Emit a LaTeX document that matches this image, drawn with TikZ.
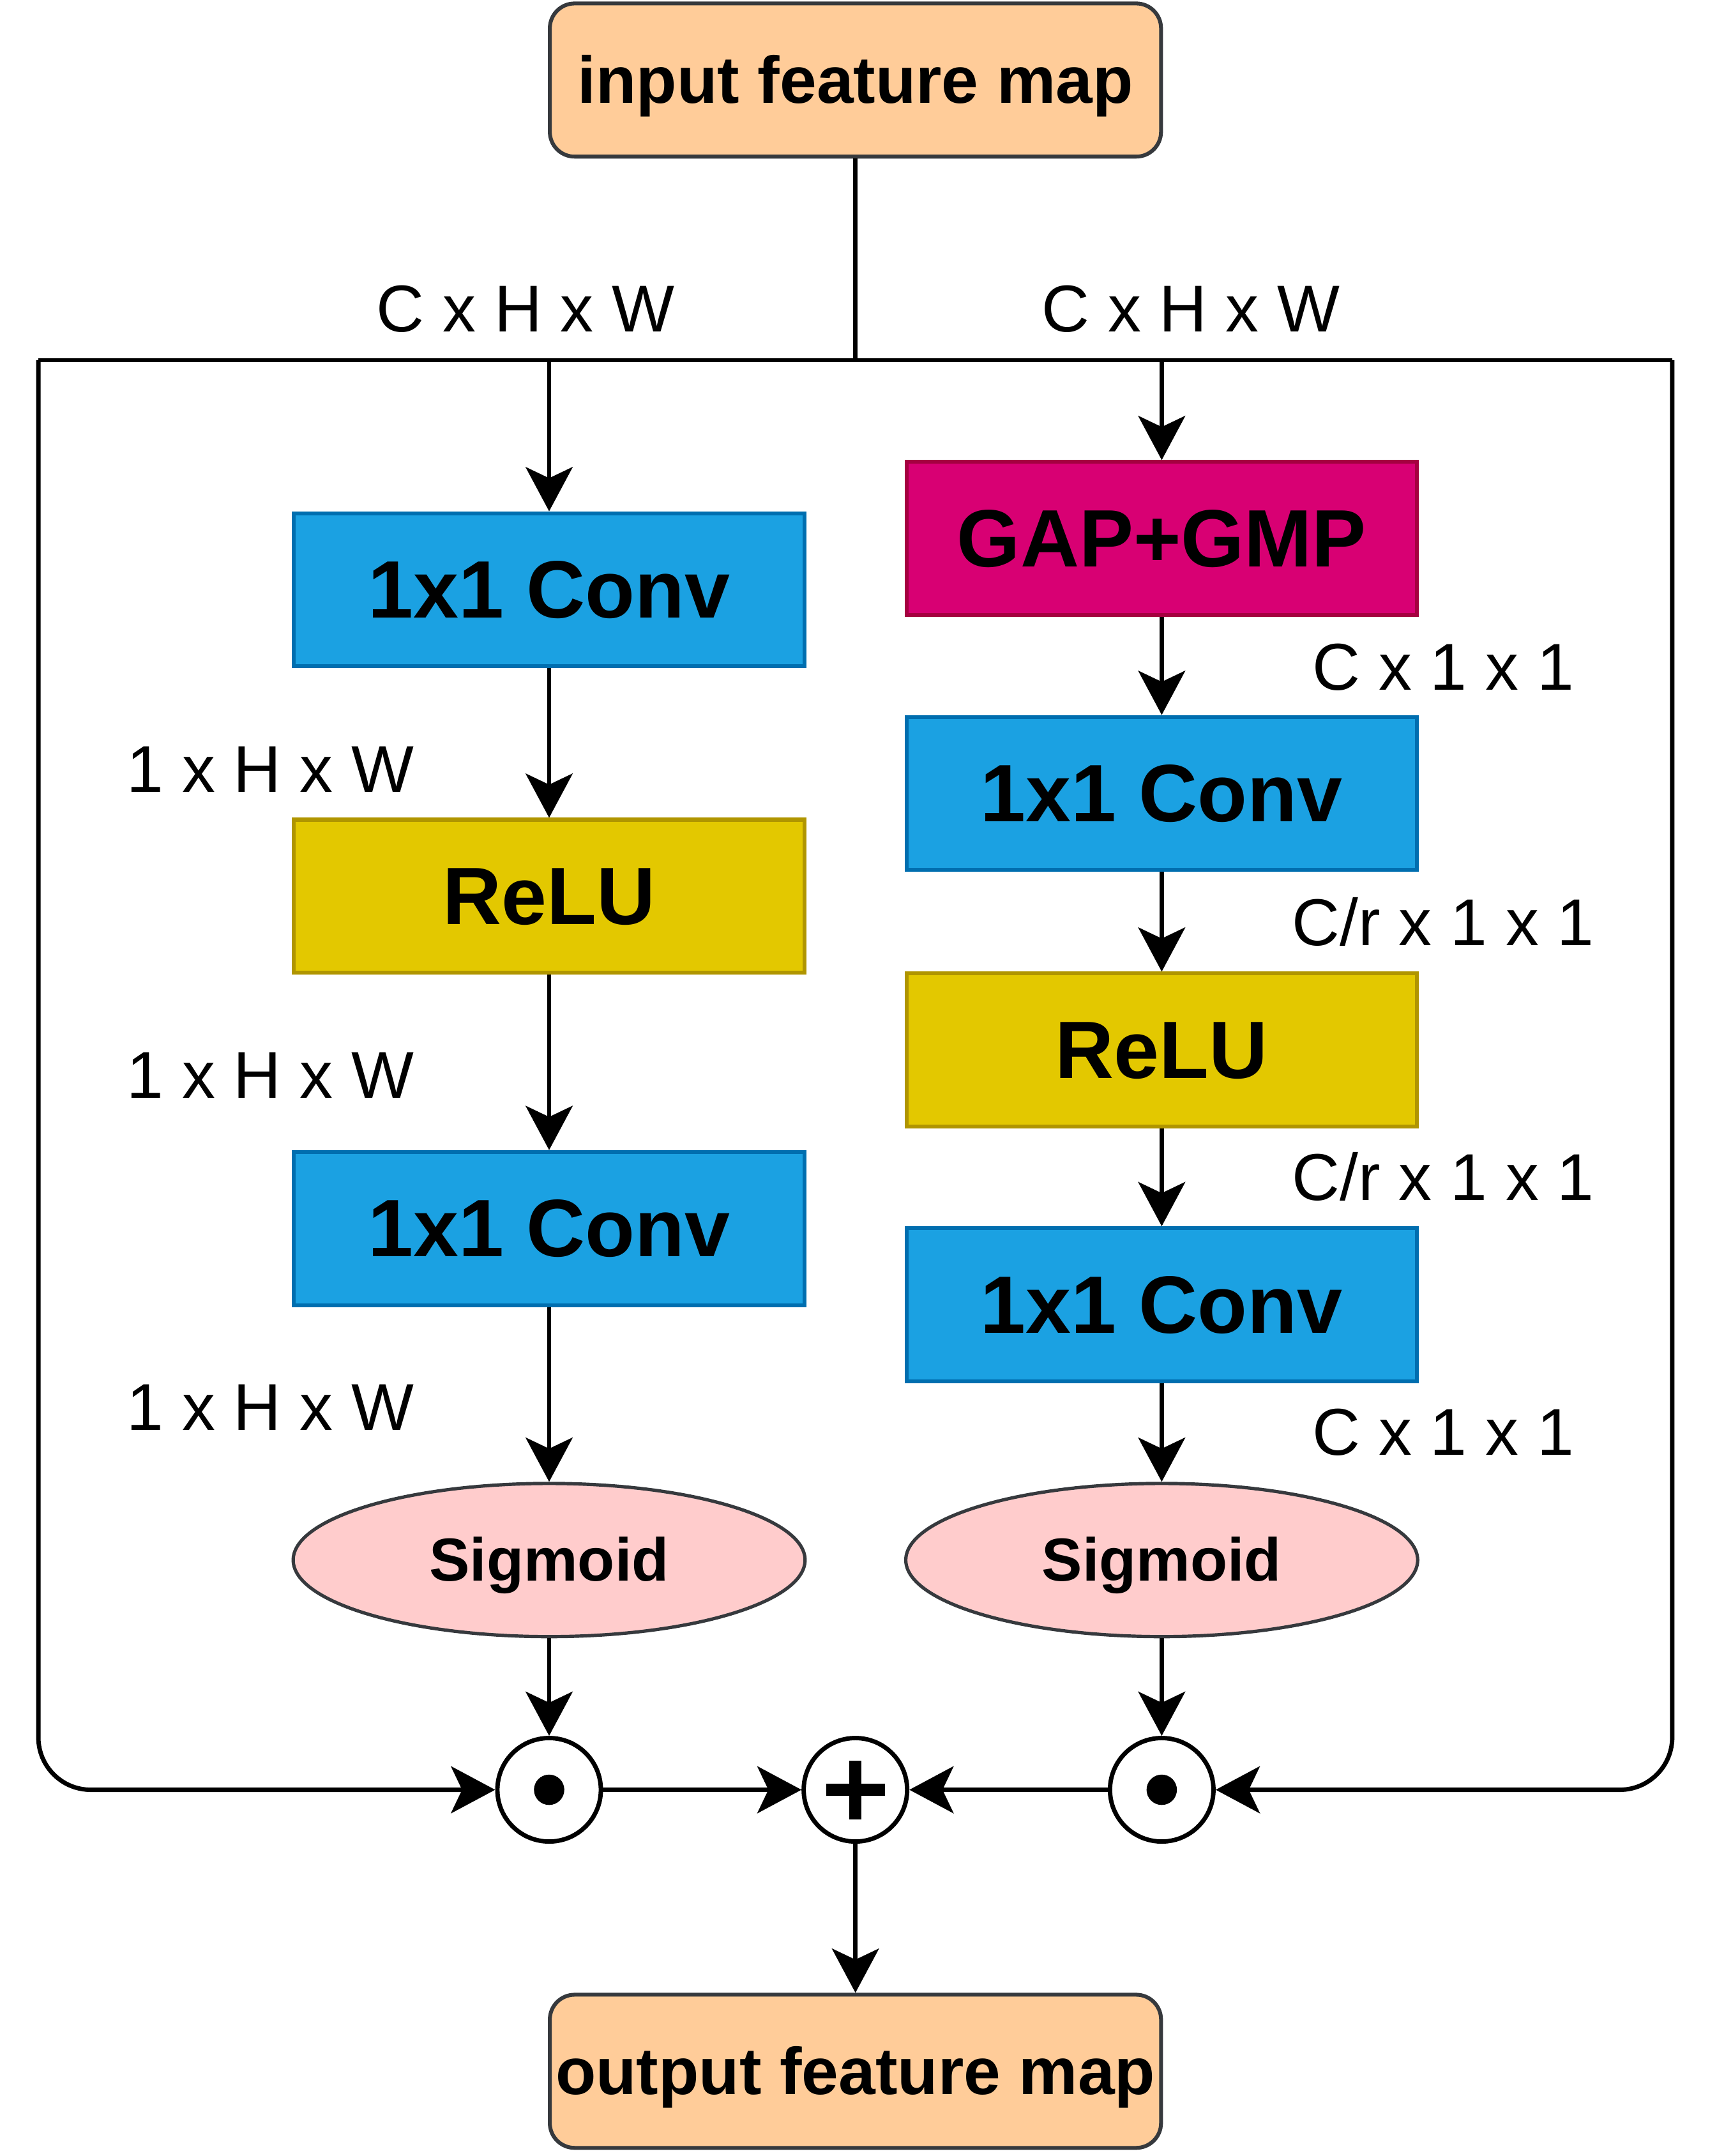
\documentclass[tikz,border=0pt]{standalone}
\usepackage{fontspec}
\setmainfont{Liberation Sans}
\usetikzlibrary{arrows.meta,shapes.geometric}
\definecolor{peachfill}{HTML}{FFCC99}
\definecolor{edgegray}{HTML}{36393D}
\definecolor{convfill}{HTML}{1BA1E2}
\definecolor{convedge}{HTML}{006EAF}
\definecolor{relufill}{HTML}{E3C800}
\definecolor{reluedge}{HTML}{B09500}
\definecolor{gapfill}{HTML}{D80073}
\definecolor{gapedge}{HTML}{A50040}
\definecolor{sigfill}{HTML}{FFCCCC}
\begin{document}
\begin{tikzpicture}[x=0.5pt,y=-0.5pt,
  conn/.style={line width=1.6pt},
  arr/.style={conn,-{Stealth[length=16pt,width=17pt,inset=4pt]}},
  blk/.style={rectangle,draw,line width=1.4pt,minimum width=185pt,minimum height=55.5pt,inner sep=0pt,
    font=\fontsize{29.5pt}{35pt}\selectfont\bfseries,text height=26.7pt,text depth=6.25pt},
  convbox/.style={blk,fill=convfill,draw=convedge},
  relubox/.style={blk,fill=relufill,draw=reluedge},
  gapbox/.style={blk,fill=gapfill,draw=gapedge},
  sigbox/.style={ellipse,draw=edgegray,fill=sigfill,line width=1.2pt,minimum width=185.5pt,minimum height=55.5pt,inner sep=0pt,
    font=\fontsize{22pt}{26pt}\selectfont\bfseries,text height=19.9pt,text depth=4.66pt},
  iobox/.style={rectangle,rounded corners=9pt,draw=edgegray,fill=peachfill,line width=1.4pt,minimum width=221.5pt,minimum height=55.5pt,inner sep=0pt,
    font=\fontsize{24pt}{28pt}\selectfont\bfseries,text height=21.7pt,text depth=5.1pt},
  opcirc/.style={circle,draw=black,fill=white,line width=1.6pt,minimum size=37.5pt,inner sep=0pt},
  dimlabel/.style={anchor=base,inner sep=0pt,font=\fontsize{24pt}{28pt}\selectfont}
]
\useasboundingbox (0,0) rectangle (1244,1562.4);

% nodes
\node[iobox] (in) at (620,58) {input feature map};
\node[iobox] (out) at (620,1501) {output feature map};

\node[convbox] (conv1L) at (398,427.4) {1x1 Conv};
\node[relubox] (reluL) at (398,649.5) {ReLU};
\node[convbox] (conv2L) at (398,890.3) {1x1 Conv};
\node[sigbox] (sigL) at (398,1130.5) {Sigmoid};

\node[gapbox] (gap) at (842,390.3) {GAP+GMP};
\node[convbox] (conv1R) at (842,575) {1x1 Conv};
\node[relubox] (reluR) at (842,761) {ReLU};
\node[convbox] (conv2R) at (842,945.5) {1x1 Conv};
\node[sigbox] (sigR) at (842,1130.5) {Sigmoid};

\node[opcirc] (odotL) at (398,1297) {};
\node[opcirc] (plus) at (620,1297) {};
\node[opcirc] (odotR) at (842,1297) {};

% labels
\node[dimlabel] (lblA) at (381,240.4) {C x H x W};
\node[dimlabel] (lblB) at (863,240.4) {C x H x W};
\node[dimlabel] (lblL1) at (196,574) {1 x H x W};
\node[dimlabel] (lblL2) at (196,796) {1 x H x W};
\node[dimlabel] (lblL3) at (196,1036.6) {1 x H x W};
\node[dimlabel] (lblR1) at (1046,500) {C x 1 x 1};
\node[dimlabel] (lblR2) at (1046,685) {C/r x 1 x 1};
\node[dimlabel] (lblR3) at (1046,870) {C/r x 1 x 1};
\node[dimlabel] (lblR4) at (1046,1054.5) {C x 1 x 1};

% coordinates
\coordinate (split) at (620,261);
\coordinate (bl) at (27.8,261);
\coordinate (br) at (1212,261);
\coordinate (tL) at (398,261);
\coordinate (tR) at (842,261);

% connectors
\draw[conn] (in) -- (split);
\draw[conn] (bl) -- (br);
\draw[arr] (tL) -- (conv1L);
\draw[arr] (conv1L) -- (reluL);
\draw[arr] (reluL) -- (conv2L);
\draw[arr] (conv2L) -- (sigL);
\draw[arr] (sigL) -- (odotL);
\draw[arr] (tR) -- (gap);
\draw[arr] (gap) -- (conv1R);
\draw[arr] (conv1R) -- (reluR);
\draw[arr] (reluR) -- (conv2R);
\draw[arr] (conv2R) -- (sigR);
\draw[arr] (sigR) -- (odotR);
\draw[arr,rounded corners=19pt] (bl) |- (odotL);
\draw[arr,rounded corners=19pt] (br) |- (odotR);
\draw[arr] (odotL) -- (plus);
\draw[arr] (odotR) -- (plus);
\draw[arr] (plus) -- (out);

% operator symbols
\fill (odotL.center) circle (5.5pt);
\fill (odotR.center) circle (5.5pt);
\draw[line width=4.5pt] ([xshift=-10.65pt]plus.center) -- ([xshift=10.65pt]plus.center);
\draw[line width=4.5pt] ([yshift=-10.65pt]plus.center) -- ([yshift=10.65pt]plus.center);
\end{tikzpicture}
\end{document}
